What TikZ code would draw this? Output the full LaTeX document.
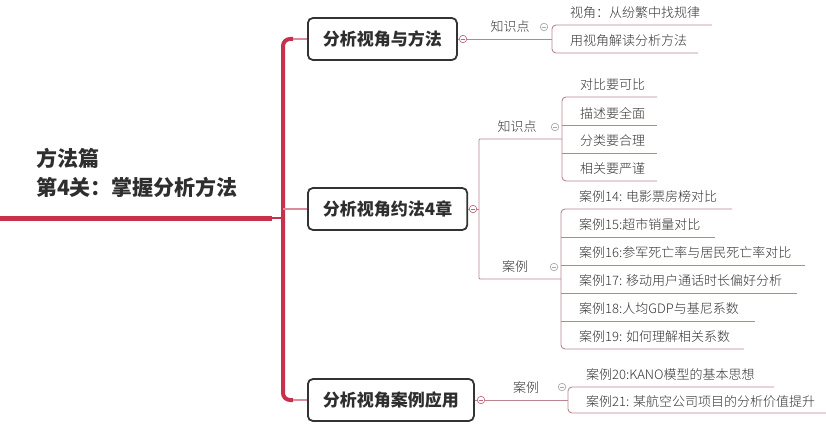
\documentclass[tikz,border=0pt]{standalone}
\usepackage{fontspec}
\setmainfont{Noto Sans CJK SC}
\newfontfamily\lightfont{Noto Sans CJK SC Light}
\definecolor{redc}{HTML}{C8314B}
\definecolor{pinkc}{HTML}{D98C9C}
\definecolor{linec}{HTML}{B98591}
\definecolor{boxc}{HTML}{333333}
\definecolor{textc}{HTML}{2E2E2E}
\definecolor{leafc}{HTML}{333333}
\definecolor{togc}{HTML}{C0667C}
\definecolor{gtogc}{HTML}{A8A8A8}
\begin{document}
\begin{tikzpicture}[x=1pt,y=-1pt,
  box/.style={draw=boxc, line width=1.8pt, rounded corners=5pt, fill=white, minimum height=42pt, inner xsep=15pt, anchor=west, font=\fontsize{17}{20}\selectfont\bfseries, text=textc},
  leaf/.style={anchor=west, inner sep=0pt, font=\lightfont\fontsize{13}{15}\selectfont, text=leafc},
  cat/.style={inner sep=0pt, font=\lightfont\fontsize{13}{15}\selectfont, text=leafc},
  ul/.style={draw=linec, line width=0.9pt},
  tog/.style={circle, draw=togc, line width=0.7pt, fill=white, minimum size=7.5pt, inner sep=0pt,
    path picture={\draw[togc, line width=0.7pt] ([xshift=-2.2pt]path picture bounding box.center) -- ([xshift=2.2pt]path picture bounding box.center);}},
  gtog/.style={circle, draw=gtogc, line width=0.7pt, fill=white, minimum size=7.5pt, inner sep=0pt,
    path picture={\draw[gtogc, line width=0.7pt] ([xshift=-2.2pt]path picture bounding box.center) -- ([xshift=2.2pt]path picture bounding box.center);}}
]
\useasboundingbox (0,0) rectangle (826,428);

% root
\node[anchor=west, align=left, inner sep=0pt, font=\fontsize{21}{29}\selectfont\bfseries, text=textc] (root) at (36,172.5) {方法篇\\第4关：掌握分析方法};
\coordinate (r0) at (0,218);
\coordinate (r1) at (272,218);
\coordinate (tj) at (283,218);
\draw[draw=redc, line width=5pt] (r0) -- (r1);
\draw[draw=redc, line width=1.5pt] (r1) -- (tj);

% main boxes
\node[box] (b1) at (307,39) {分析视角与方法};
\node[box] (b2) at (307,209) {分析视角约法4章};
\node[box] (b3) at (307,400) {分析视角案例应用};

% trunk
\coordinate (t1) at (293,39);
\coordinate (t2) at (283,209);
\coordinate (t3) at (293,400);
\draw[draw=redc, line width=4pt, rounded corners=7pt] (t1) -- (283,39) -- (283,400) -- (t3);
\draw[pinkc, line width=1.3pt] (t1) -- (b1.west);
\draw[pinkc, line width=1.3pt] (t2) -- (b2.west);
\draw[pinkc, line width=1.3pt] (t3) -- (b3.west);

% toggles of boxes
\node[tog] (c1) at (463,39) {};
\node[tog] (c2) at (473,209) {};
\node[tog] (c3) at (481,400) {};
\draw[ul] (b1.east) -- (c1);
\draw[ul] (b2.east) -- (c2);
\draw[ul] (b3.east) -- (c3);

% ---------- group 1 ----------
\coordinate (k1) at (552,39);
\draw[ul] (c1) -- (k1);
\node[cat] (p1) at (510,27) {知识点};
\node[gtog] (g1) at (544,27) {};
\node[leaf] (l11) at (570,13) {视角：从纷繁中找规律};
\node[leaf] (l12) at (570,41) {用视角解读分析方法};
\coordinate (e11) at (712,25);
\coordinate (e12) at (698,53);
\draw[ul, rounded corners=4pt] (e11) -- (k1 |- e11) -- (k1 |- e12) -- (e12);

% ---------- group 2 ----------
\coordinate (v2) at (479,209);
\draw[ul] (c2) -- (v2);
\coordinate (k2) at (562,139);
\coordinate (k3) at (561,279);
\draw[ul, rounded corners=1pt] (k2) -- (v2 |- k2) -- (v2 |- k3) -- (k3);

\node[cat] (p2) at (517,127) {知识点};
\node[gtog] (g2) at (555,127) {};
\node[leaf] (l21) at (580,85) {对比要可比};
\node[leaf] (l22) at (580,113) {描述要全面};
\node[leaf] (l23) at (580,141) {分类要合理};
\node[leaf] (l24) at (580,169) {相关要严谨};
\coordinate (e21) at (657,97);
\coordinate (e22) at (657,125);
\coordinate (e23) at (657,153);
\coordinate (e24) at (657,181);
\draw[ul, rounded corners=4pt] (e21) -- (k2 |- e21) -- (k2 |- e24) -- (e24);
\draw[ul] (k2 |- e22) -- (e22);
\draw[ul] (k2 |- e23) -- (e23);

\node[cat] (p3) at (515,267) {案例};
\node[gtog] (g3) at (554,267) {};
\node[leaf] (l31) at (579,197) {案例14: 电影票房榜对比};
\node[leaf] (l32) at (579,225) {案例15:超市销量对比};
\node[leaf] (l33) at (579,253) {案例16:参军死亡率与居民死亡率对比};
\node[leaf] (l34) at (579,281) {案例17: 移动用户通话时长偏好分析};
\node[leaf] (l35) at (579,309) {案例18:人均GDP与基尼系数};
\node[leaf] (l36) at (579,337) {案例19: 如何理解相关系数};
\coordinate (e31) at (732,209);
\coordinate (e32) at (715,237);
\coordinate (e33) at (805,265);
\coordinate (e34) at (797,293);
\coordinate (e35) at (755,321);
\coordinate (e36) at (744,349);
\draw[ul, rounded corners=4pt] (e31) -- (k3 |- e31) -- (k3 |- e36) -- (e36);
\draw[ul] (k3 |- e32) -- (e32);
\draw[ul] (k3 |- e33) -- (e33);
\draw[ul] (k3 |- e34) -- (e34);
\draw[ul] (k3 |- e35) -- (e35);

% ---------- group 3 ----------
\coordinate (k4) at (568,400);
\draw[ul] (c3) -- (k4);
\node[cat] (p4) at (526,388) {案例};
\node[gtog] (g4) at (562,387) {};
\node[leaf] (l41) at (586,375) {案例20:KANO模型的基本思想};
\node[leaf] (l42) at (586,402) {案例21: 某航空公司项目的分析价值提升};
\coordinate (e41) at (774,387);
\coordinate (e42) at (826,413);
\draw[ul, rounded corners=4pt] (e41) -- (k4 |- e41) -- (k4 |- e42) -- (e42);
\end{tikzpicture}
\end{document}
